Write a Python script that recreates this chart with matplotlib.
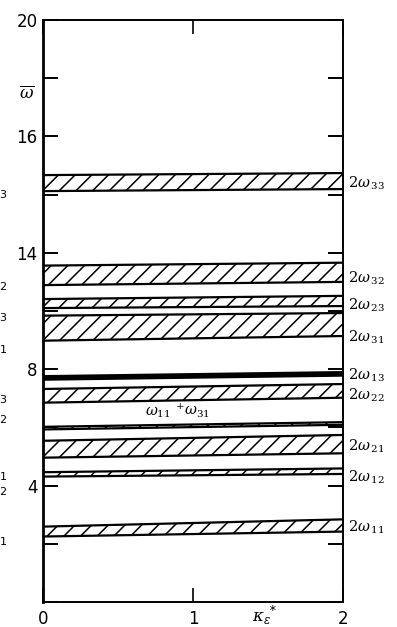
import numpy as np
import matplotlib
matplotlib.use("Agg")
import matplotlib.pyplot as plt

# band limits at kappa = 0 and kappa = 2 (lower, upper)
band_names = ["2w33", "2w32", "2w23", "2w31", "2w13", "2w22", "w11+w31", "2w21", "2w12", "2w11"]
low_0 = [14.12, 10.89, 10.10, 8.98, 7.64, 6.85, 5.93, 4.96, 4.31, 2.25]
high_0 = [14.67, 11.56, 10.41, 9.84, 7.76, 7.32, 6.02, 5.54, 4.46, 2.59]
low_2 = [14.19, 11.00, 10.17, 9.14, 7.78, 7.02, 6.09, 5.11, 4.40, 2.42]
high_2 = [14.74, 11.66, 10.52, 9.93, 7.90, 7.49, 6.18, 5.74, 4.59, 2.84]
hatched = [True, True, True, True, False, True, True, True, True, True]

right_labels = [r"$2\omega_{\,33}$", r"$2\omega_{\,32}$", r"$2\omega_{\,23}$", r"$2\omega_{\,31}$",
                r"$2\omega_{\,13}$", r"$2\omega_{\,22}$", r"$2\omega_{\,21}$", r"$2\omega_{\,12}$",
                r"$2\omega_{\,11}$"]
right_label_y = [14.4, 11.13, 10.2, 9.1, 7.8, 7.11, 5.36, 4.3, 2.58]

yticks = [0, 2, 4, 6, 8, 10, 12, 14, 16, 18, 20]
ytick_text = {20: "20", 16: "16", 12: "14", 8: "8", 4: "4"}
xticks = [0, 1, 2]

# cut-off subscripts of the neighbouring panel (left edge)
frag_y = [13.99, 10.82, 9.76, 8.66, 6.94, 6.25, 4.30, 3.78, 2.06]
frag_txt = ["3", "2", "3", "1", "3", "2", "1", "2", "1"]

plt.rcParams["hatch.linewidth"] = 1.1
plt.rcParams["mathtext.fontset"] = "dejavuserif"

fig = plt.figure(figsize=(3.97, 6.27), dpi=100)
ax = fig.add_axes([43 / 397, 1 - 602 / 627, 300 / 397, 582 / 627])

x = np.array([0.0, 2.0])
for i, name in enumerate(band_names):
    lo = np.array([low_0[i], low_2[i]])
    hi = np.array([high_0[i], high_2[i]])
    if hatched[i]:
        ax.fill_between(x, lo, hi, facecolor="white", edgecolor="black",
                        hatch="//", linewidth=0)
    else:
        ax.fill_between(x, lo, hi, facecolor="black", linewidth=0)
    ax.plot(x, lo, color="black", lw=1.6, solid_capstyle="butt")
    ax.plot(x, hi, color="black", lw=1.6, solid_capstyle="butt")

ax.set_xlim(0, 2)
ax.set_ylim(0, 20)

ax.set_yticks(yticks)
ax.set_yticklabels([ytick_text.get(v, "") for v in yticks], fontsize=12)
ax.set_xticks(xticks)
ax.set_xticklabels([str(v) for v in xticks], fontsize=12)
ax.tick_params(axis="y", direction="in", length=11, width=1.4, left=True, right=True, pad=4)
ax.tick_params(axis="x", direction="in", length=10, width=1.2, top=True, bottom=True, pad=6)
for s in ax.spines.values():
    s.set_linewidth(1.4)
ax.spines["left"].set_linewidth(2.0)

for lab, yy in zip(right_labels, right_label_y):
    ax.text(2.035, yy, lab, fontsize=10.5, va="center", ha="left", clip_on=False)

ax.text(0.68, 6.5, r"$\omega_{11}$", fontsize=10.5, va="center", ha="left")
ax.text(0.88, 6.62, r"$^{+}\omega_{31}$", fontsize=10.5, va="center", ha="left")

ax.text(-0.107, 17.5, r"$\overline{\omega}$", fontsize=12, va="center", ha="center", clip_on=False)
ax.text(1.48, -0.45, r"$\kappa_{\varepsilon}{}^{*}$", fontsize=12, va="center", ha="center", clip_on=False)

for yy, t in zip(frag_y, frag_txt):
    ax.text(-0.29, yy, t, fontsize=8, va="center", ha="left", clip_on=False)

fig.savefig("out.png", dpi=100)
